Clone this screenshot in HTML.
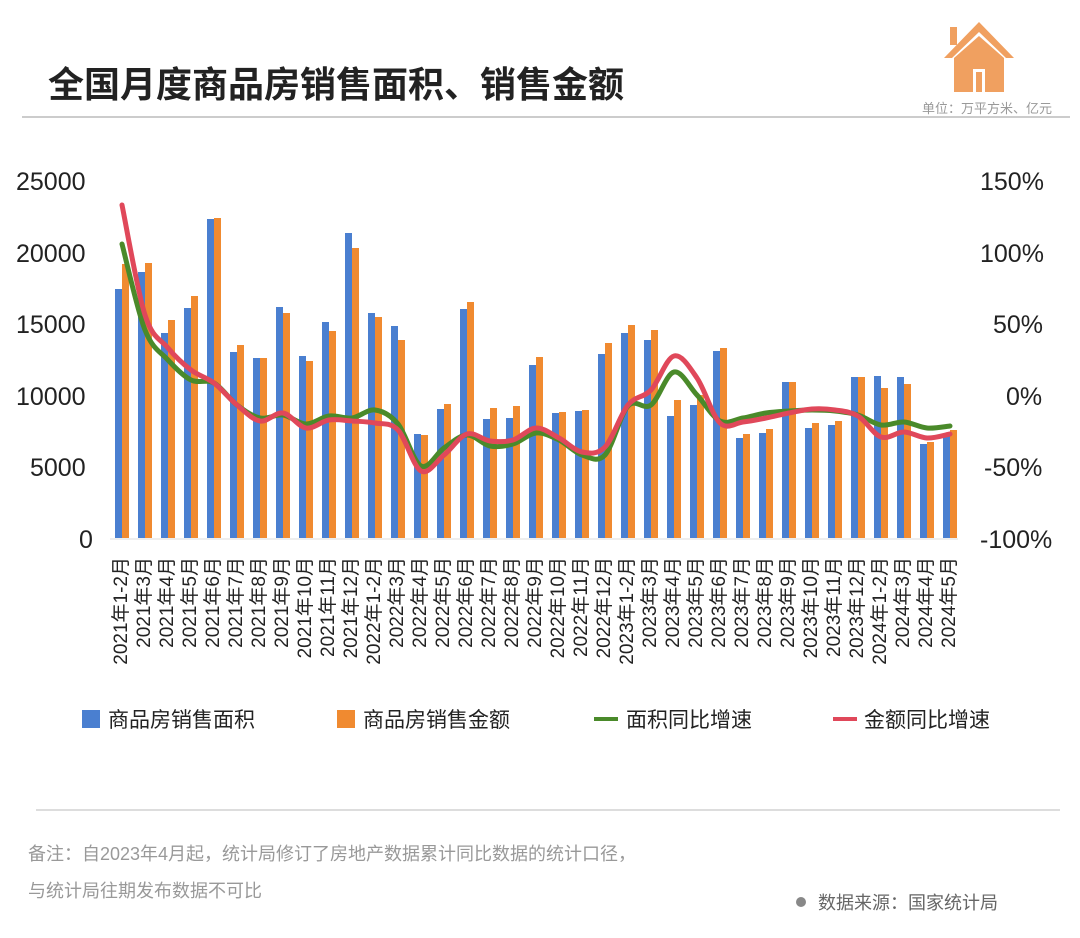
<!DOCTYPE html>
<html><head><meta charset="utf-8"><style>
body{margin:0;background:#fff;}
svg{display:block;font-family:"Liberation Sans","Noto Sans CJK SC",sans-serif;}
</style></head><body>
<svg id="s" width="1080" height="938" viewBox="0 0 1080 938" xmlns="http://www.w3.org/2000/svg">
<text x="48" y="97" font-size="36" font-weight="bold" fill="#222">全国月度商品房销售面积、销售金额</text>
<line x1="22" y1="117" x2="1070" y2="117" stroke="#999" stroke-width="1"/>
<text x="1052" y="113" font-size="13" fill="#999" text-anchor="end">单位：万平方米、亿元</text>
<g fill="#f0a060">
<polygon points="979,22 944,58 952,58 979,32 1006,58 1014,58"/>
<rect x="950" y="27" width="7" height="18"/>
<polygon points="954,58 979,36 1004,58 1004,92 954,92"/>
</g>
<rect x="973" y="69" width="12" height="23" fill="#fff"/>
<rect x="976" y="72" width="6" height="20" fill="#f0a060"/>
<g font-size="25" fill="#222">
<text x="16" y="190">25000</text><text x="16" y="262">20000</text><text x="16" y="333">15000</text>
<text x="16" y="405">10000</text><text x="30" y="476">5000</text><text x="79" y="548">0</text>
<text x="980" y="190">150%</text><text x="980" y="262">100%</text><text x="993" y="333">50%</text>
<text x="1006" y="405">0%</text><text x="984" y="476">-50%</text><text x="980" y="548">-100%</text>
</g>
<line x1="110" y1="539" x2="958" y2="539" stroke="#ddd" stroke-width="1"/>
<g id="bars"></g>
<g id="labels" font-size="19" fill="#222"></g>
<path id="g" fill="none" stroke="#4a8a2a" stroke-width="5" stroke-linecap="round"/>
<path id="r" fill="none" stroke="#e0485a" stroke-width="5" stroke-linecap="round"/>
<g font-size="21" fill="#222">
<rect x="82" y="710" width="18" height="18" fill="#4a7fd0"/><text x="108" y="727">商品房销售面积</text>
<rect x="337" y="710" width="18" height="18" fill="#f08a30"/><text x="363" y="727">商品房销售金额</text>
<line x1="594" y1="719" x2="618" y2="719" stroke="#4a8a2a" stroke-width="4"/><text x="626" y="727">面积同比增速</text>
<line x1="833" y1="719" x2="857" y2="719" stroke="#e0485a" stroke-width="4"/><text x="864" y="727">金额同比增速</text>
</g>
<line x1="36" y1="810" x2="1060" y2="810" stroke="#bbb" stroke-width="1"/>
<g font-size="18" fill="#999">
<text x="28" y="860">备注：自2023年4月起，统计局修订了房地产数据累计同比数据的统计口径，</text>
<text x="28" y="897">与统计局往期发布数据不可比</text>
</g>
<circle cx="801" cy="902" r="5" fill="#888"/>
<text x="818" y="909" font-size="18" fill="#666">数据来源：国家统计局</text>
</svg>
<script>
var B=[289,272,333,308,219,352,358,307,356,322,233,313,326,434,409,309,419,418,365,413,411,354,333,340,416,405,351,438,433,382,428,425,377,376,377,444,436];
var O=[264,263,320,296,218,345,358,313,361,331,248,317,340,435,404,302,408,406,357,412,410,343,325,330,400,395,348,434,429,382,423,421,377,388,384,442,430];
var G=[244,330,360,380,383,405,418,415,424,416,418,410,424,466,448,435,446,444,433,440,455,455,406,405,372,395,421,418,413,411,410,411,415,425,422,428,426];
var R=[205,315,348,370,383,405,421,413,428,420,421,423,430,471,455,434,441,440,428,438,452,447,405,390,356,378,423,422,418,413,409,410,416,437,432,438,434];
var L=[];["1-2","3","4","5","6","7","8","9","10","11","12"].forEach(function(m){L.push("2021年"+m+"月")});
["1-2","3","4","5","6","7","8","9","10","11","12"].forEach(function(m){L.push("2022年"+m+"月")});
["1-2","3","4","5","6","7","8","9","10","11","12"].forEach(function(m){L.push("2023年"+m+"月")});
["1-2","3","4","5"].forEach(function(m){L.push("2024年"+m+"月")});
var h="",t="";
for(var i=0;i<37;i++){var x=115+23*i;
h+='<rect x="'+x+'" y="'+B[i]+'" width="7" height="'+(538-B[i])+'" fill="#4a7fd0"/>';
h+='<rect x="'+(x+7)+'" y="'+O[i]+'" width="7" height="'+(538-O[i])+'" fill="#f08a30"/>';
var cx=x+12;t+='<text transform="translate('+cx+',557) rotate(-90)" text-anchor="end">'+L[i]+'</text>';}
document.getElementById("bars").innerHTML=h;document.getElementById("labels").innerHTML=t;
function path(Y){var p=[];for(var i=0;i<Y.length;i++)p.push([122+23*i,Y[i]]);
var d="M"+p[0][0]+","+p[0][1];for(var i=0;i<p.length-1;i++){var p0=p[i-1]||p[i],p1=p[i],p2=p[i+1],p3=p[i+2]||p2;
d+=" C"+(p1[0]+(p2[0]-p0[0])/6)+","+(p1[1]+(p2[1]-p0[1])/6)+" "+(p2[0]-(p3[0]-p1[0])/6)+","+(p2[1]-(p3[1]-p1[1])/6)+" "+p2[0]+","+p2[1];}return d;}
document.getElementById("g").setAttribute("d",path(G));document.getElementById("r").setAttribute("d",path(R));
</script>
</body></html>
